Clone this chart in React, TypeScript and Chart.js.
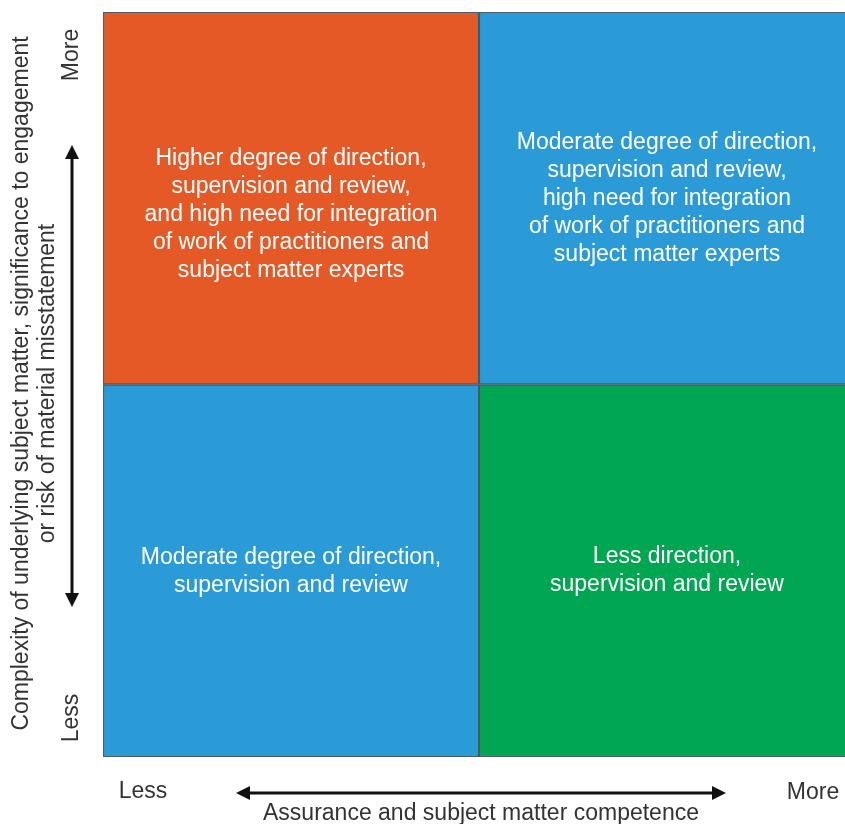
import React, { useEffect, useRef } from "react";
import { Chart, registerables } from "chart.js";

Chart.register(...registerables);

// ---- data ----
const xCategories = ["Less", "More"];
const lowerRowValues = [1, 1];
const upperRowValues = [1, 1];
const lowerRowColors = ["#2B9BD8", "#00A651"];
const upperRowColors = ["#E55926", "#2B9BD8"];
const lowerRowTexts = [
  ["Moderate degree of direction,", "supervision and review"],
  ["Less direction,", "supervision and review"],
];
const upperRowTexts = [
  [
    "Higher degree of direction,",
    "supervision and review,",
    "and high need for integration",
    "of work of practitioners and",
    "subject matter experts",
  ],
  [
    "Moderate degree of direction,",
    "supervision and review,",
    "high need for integration",
    "of work of practitioners and",
    "subject matter experts",
  ],
];
const xAxisTitle = "Assurance and subject matter competence";
const yAxisTitle = [
  "Complexity of underlying subject matter, significance to engagement",
  "or risk of material misstatement",
];
const lowLabel = "Less";
const highLabel = "More";

// ---- style ----
const FONT = '"Liberation Sans", Arial, Helvetica, sans-serif';
const FONT_SIZE = 23;
const LINE_H = 28;
const AXIS_COLOR = "#333333";
const upperTextShift = [16, 0];
const lowerTextShift = [1, 0];

function drawArrow(
  ctx: CanvasRenderingContext2D,
  x1: number,
  y1: number,
  x2: number,
  y2: number
) {
  const head = 14;
  const half = 7;
  const ang = Math.atan2(y2 - y1, x2 - x1);
  ctx.save();
  ctx.strokeStyle = "#111";
  ctx.fillStyle = "#111";
  ctx.lineWidth = 3;
  ctx.beginPath();
  ctx.moveTo(x1 + Math.cos(ang) * head * 0.8, y1 + Math.sin(ang) * head * 0.8);
  ctx.lineTo(x2 - Math.cos(ang) * head * 0.8, y2 - Math.sin(ang) * head * 0.8);
  ctx.stroke();
  const tip = (tx: number, ty: number, a: number) => {
    ctx.beginPath();
    ctx.moveTo(tx, ty);
    ctx.lineTo(
      tx - Math.cos(a) * head - Math.sin(a) * half,
      ty - Math.sin(a) * head + Math.cos(a) * half
    );
    ctx.lineTo(
      tx - Math.cos(a) * head + Math.sin(a) * half,
      ty - Math.sin(a) * head - Math.cos(a) * half
    );
    ctx.closePath();
    ctx.fill();
  };
  tip(x2, y2, ang);
  tip(x1, y1, ang + Math.PI);
  ctx.restore();
}

const quadrantTextPlugin = {
  id: "quadrantText",
  afterDatasetsDraw(chart: any) {
    const ctx: CanvasRenderingContext2D = chart.ctx;
    const sets = [
      { meta: chart.getDatasetMeta(0), texts: lowerRowTexts, shift: lowerTextShift },
      { meta: chart.getDatasetMeta(1), texts: upperRowTexts, shift: upperTextShift },
    ];
    ctx.save();
    ctx.font = `${FONT_SIZE}px ${FONT}`;
    ctx.fillStyle = "#ffffff";
    ctx.textAlign = "center";
    ctx.textBaseline = "middle";
    sets.forEach(({ meta, texts, shift }) => {
      meta.data.forEach((bar: any, i: number) => {
        const props = bar.getProps(["x", "y", "base"], true);
        const cy = (props.y + props.base) / 2 + shift[i];
        const lines = texts[i];
        lines.forEach((line: string, k: number) => {
          ctx.fillText(line, props.x, cy + (k - (lines.length - 1) / 2) * LINE_H);
        });
      });
    });
    ctx.restore();
  },
};

const axisDecorPlugin = {
  id: "axisDecor",
  afterDraw(chart: any) {
    const ctx: CanvasRenderingContext2D = chart.ctx;
    const ca = chart.chartArea;
    ctx.save();
    ctx.font = `${FONT_SIZE}px ${FONT}`;
    ctx.fillStyle = AXIS_COLOR;
    ctx.textAlign = "center";
    ctx.textBaseline = "middle";

    // vertical axis
    const vx = ca.left - 31;
    const midY = (ca.top + ca.bottom) / 2;
    const rot = (text: string, x: number, y: number) => {
      ctx.save();
      ctx.translate(x, y);
      ctx.rotate(-Math.PI / 2);
      ctx.fillText(text, 0, 0);
      ctx.restore();
    };
    rot(highLabel, vx, ca.top + 43);
    rot(lowLabel, vx, ca.bottom - 39);
    drawArrow(ctx, vx, ca.bottom - 150, vx, ca.top + 133);
    rot(yAxisTitle[0], ca.left - 81, midY - 1);
    rot(yAxisTitle[1], ca.left - 55, midY - 1);

    // horizontal axis
    const hy = ca.bottom + 36;
    ctx.fillText(lowLabel, ca.left + 40, hy - 1);
    ctx.fillText(highLabel, ca.right - 42, hy);
    drawArrow(ctx, ca.left + 133, hy, ca.right - 129, hy);
    ctx.fillText(xAxisTitle, (ca.left + ca.right) / 2 + 2, ca.bottom + 57);
    ctx.restore();
  },
};

export default function App() {
  const ref = useRef<HTMLCanvasElement | null>(null);
  useEffect(() => {
    if (!ref.current) return;
    const chart = new Chart(ref.current, {
      type: "bar",
      data: {
        labels: xCategories,
        datasets: [
          {
            label: "Less complexity",
            data: lowerRowValues,
            backgroundColor: lowerRowColors,
            borderColor: "rgba(15,40,60,0.75)",
            borderWidth: 1.5,
            borderSkipped: false,
            categoryPercentage: 1,
            barPercentage: 1,
          },
          {
            label: "More complexity",
            data: upperRowValues,
            backgroundColor: upperRowColors,
            borderColor: "rgba(15,40,60,0.75)",
            borderWidth: 1.5,
            borderSkipped: false,
            categoryPercentage: 1,
            barPercentage: 1,
          },
        ],
      },
      options: {
        responsive: true,
        maintainAspectRatio: false,
        animation: false,
        layout: { padding: { left: 103, top: 12, right: 0, bottom: 67 } },
        plugins: {
          legend: { display: false },
          tooltip: { enabled: false },
          title: { display: false },
        },
        scales: {
          x: { type: "category", stacked: true, display: false },
          y: { stacked: true, min: 0, max: 2, display: false },
        },
      },
      plugins: [quadrantTextPlugin, axisDecorPlugin],
    } as any);
    return () => chart.destroy();
  }, []);
  return (
    <div
      style={{
        position: "fixed",
        left: 0,
        top: 0,
        width: "855px",
        height: "824px",
        background: "#ffffff",
      }}
    >
      <canvas ref={ref} />
    </div>
  );
}
